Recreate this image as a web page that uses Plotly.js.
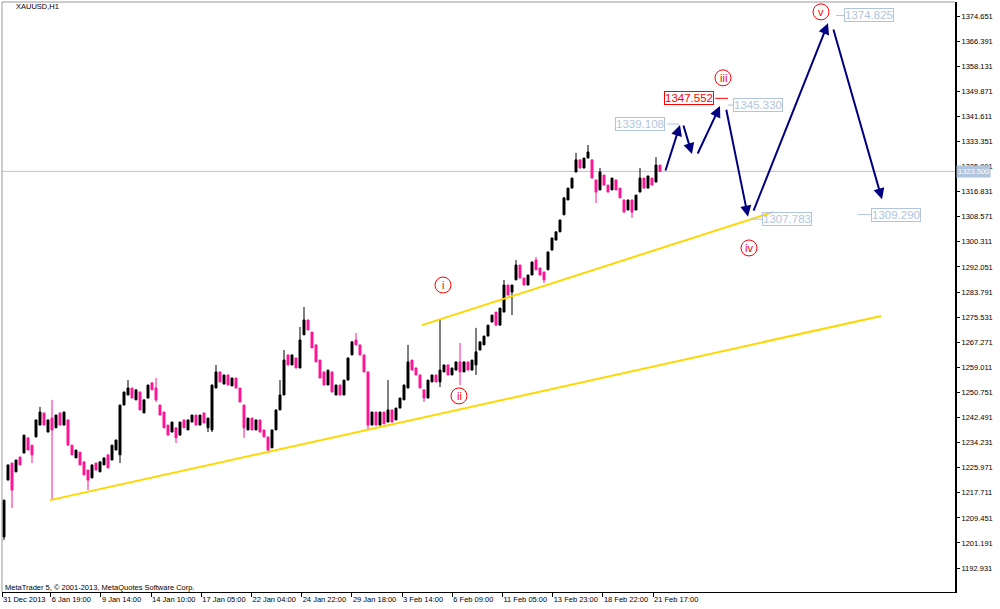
<!DOCTYPE html>
<html>
<head>
<meta charset="utf-8">
<script src="https://cdn.plot.ly/plotly-3.0.1.min.js"></script>
<style>html,body{margin:0;padding:0;background:#fff;}#chart{width:1000px;height:609px;}</style>
</head>
<body>
<div id="chart"></div>
<script>
// ---- data: XAUUSD H1 (each bar = ~4 hourly bars) ----
const barOpen = [
1203.2,1221.9,1227.5,1224.6,1229.5,1230.8,1235.8,1233.4,1236.1,1240.0,
1244.0,1237.7,1242.3,1239.1,1244.0,1240.0,1241.7,1233.4,1229.2,1231.1,
1227.9,1225.2,1222.6,1227.5,1224.6,1226.9,1230.2,1228.5,1231.8,1230.2,
1246.6,1249.9,1252.2,1248.3,1250.9,1244.0,1248.9,1253.9,1252.2,1246.6,
1244.3,1240.0,1237.7,1239.1,1236.7,1241.7,1238.4,1241.0,1243.3,1240.0,
1244.0,1239.1,1238.4,1252.2,1257.5,1253.5,1256.5,1252.9,1255.5,1252.2,
1246.6,1238.4,1242.3,1238.4,1241.7,1238.4,1236.1,1232.5,1238.4,1245.0,
1249.9,1263.1,1259.8,1262.1,1258.8,1269.7,1274.6,1270.6,1266.4,1261.4,
1257.5,1253.2,1257.5,1249.9,1253.2,1249.9,1254.8,1263.1,1268.0,1266.4,
1263.1,1257.5,1240.0,1244.3,1240.0,1244.3,1241.0,1245.0,1241.7,1245.6,
1248.3,1252.2,1261.4,1258.8,1256.5,1251.6,1248.9,1254.2,1256.5,1254.2,
1257.5,1259.8,1256.5,1258.1,1260.8,1257.5,1260.8,1258.1,1259.8,1264.7,
1266.4,1269.3,1273.9,1277.2,1272.9,1277.2,1286.1,1283.8,1287.8,1292.7,
1288.4,1286.1,1289.4,1294.3,1291.7,1290.4,1291.1,1297.6,1300.9,1303.6,
1309.2,1314.1,1318.0,1323.3,1327.3,1324.6,1327.9,1327.3,1320.7,1317.4,
1322.3,1319.0,1317.4,1320.7,1318.0,1314.1,1310.8,1314.1,1310.8,1316.7,
1321.3,1318.0,1321.3,1320.0,1325.6
];
const barClose = [
1215.3,1226.9,1218.6,1228.5,1226.9,1236.7,1231.8,1230.2,1241.7,1244.3,
1240.0,1241.7,1238.4,1243.3,1240.0,1244.3,1233.4,1230.2,1231.8,1226.9,
1223.6,1221.9,1226.9,1225.2,1227.9,1229.2,1225.9,1233.4,1235.1,1246.6,
1250.9,1252.2,1248.9,1251.6,1245.0,1248.3,1253.2,1251.6,1248.3,1243.3,
1239.1,1236.7,1241.0,1235.8,1241.0,1239.1,1241.7,1243.3,1240.0,1243.3,
1240.7,1242.3,1253.2,1257.5,1254.2,1256.5,1253.2,1255.5,1252.2,1247.6,
1239.1,1242.3,1238.4,1241.7,1237.7,1236.1,1231.8,1238.4,1245.0,1249.9,
1261.4,1259.8,1263.1,1258.8,1268.0,1274.6,1271.3,1265.4,1260.8,1255.5,
1253.2,1258.1,1250.9,1253.2,1249.9,1254.8,1262.1,1267.4,1266.4,1263.1,
1257.5,1240.0,1244.3,1240.0,1244.3,1240.4,1245.0,1241.0,1245.6,1248.9,
1253.2,1260.8,1258.1,1256.5,1252.2,1248.9,1254.8,1256.5,1254.2,1258.1,
1259.8,1256.5,1258.8,1260.8,1257.5,1260.8,1258.1,1261.4,1264.1,1267.4,
1269.3,1272.9,1276.2,1272.9,1278.5,1286.1,1282.8,1286.1,1292.7,1288.4,
1286.1,1289.4,1293.7,1291.1,1289.4,1287.8,1297.0,1301.6,1303.6,1307.5,
1314.8,1318.0,1321.3,1327.3,1324.6,1327.9,1329.9,1321.3,1316.7,1323.3,
1319.0,1316.7,1321.3,1317.4,1314.8,1310.1,1314.1,1310.1,1315.7,1321.3,
1318.0,1322.0,1319.0,1325.6,1323.5
];
// wicks that reach beyond the bodies
const spikeIdx = [0,2,7,9,12,21,29,31,38,43,51,52,53,60,66,69,70,74,75,88,91,96,101,105,109,114,118,125,127,128,133,135,143,146,148,149,157,159,163];
const spikeHi = [null,null,null,1246.0,1248.3,null,null,1254.8,1255.5,null,null,null,1259.8,null,null,1254.8,1264.7,1272.3,1278.9,1270.3,null,1254.8,1266.4,null,1274.6,1267.0,1272.0,1287.8,null,1294.3,1295.3,null,1329.6,1332.2,null,1324.6,null,1324.6,1328.2];
const spikeLo = [1202.2,1212.7,1227.5,null,1215.3,1218.6,1227.5,null,1247.6,1234.1,1237.7,1237.7,null,1235.8,1230.8,null,null,null,null,null,1238.4,null,null,1247.6,1252.5,1253.2,1256.5,null,1276.2,null,null,1286.8,null,null,1313.1,null,1308.2,null,null];

const currentPrice = 1323.5;

const xTickLabels = ['31 Dec 2013','6 Jan 19:00','9 Jan 14:00','14 Jan 10:00','17 Jan 05:00','22 Jan 04:00','24 Jan 22:00','29 Jan 18:00','3 Feb 14:00','6 Feb 09:00','11 Feb 05:00','13 Feb 23:00','18 Feb 22:00','21 Feb 17:00'];

// trend lines: [barIndex, price] endpoints
const trendLower = [[11.5, 1215.3], [219.25, 1275.9]];
const trendUpper = [[104.5, 1272.9], [192.25, 1310.1]];

// projected path arrows (from -> to), bar index & price
const arrowFromX = [165.25, 169.75, 173.25, 180.5, 187.25, 207.25];
const arrowFromY = [1323.3, 1339.1, 1328.9, 1344.3, 1310.1, 1370.7];
const arrowToX   = [169.0, 172.0, 179.0, 186.0, 206.0, 219.5];
const arrowToY   = [1338.8, 1329.2, 1345.0, 1308.6, 1372.3, 1314.3];

// price target labels
const lblText  = ['1339.108','1347.552','1345.330','1307.783','1309.290','1374.825'];
const lblPrice = [1339.108, 1347.552, 1345.330, 1307.783, 1309.290, 1374.825];
const lblIdx   = [152.75, 165.0, 182.25, 189.5, 216.75, 210.0];
const lblRed   = [false, true, false, false, false, false];
const lblLineFrom = [165.75, 177.75, 181.0, 186.5, 213.5, 208.0];
const lblLineTo   = [168.75, 181.0, 182.25, 189.5, 216.75, 210.0];

// wave counts
const waveText  = ['i','ii','iii','iv','v'];
const waveIdx   = [109.75, 113.75, 179.75, 186.25, 204.25];
const wavePrice = [1286.1, 1249.6, 1354.3, 1298.3, 1376.0];

// ---- build ----
const idx = barOpen.map((_, i) => i);
const hi = barOpen.map((o, i) => Math.max(o, barClose[i]));
const lo = barOpen.map((o, i) => Math.min(o, barClose[i]));
spikeIdx.forEach((k, j) => {
  if (spikeHi[j] != null) hi[k] = Math.max(hi[k], spikeHi[j]);
  if (spikeLo[j] != null) lo[k] = Math.min(lo[k], spikeLo[j]);
});

const PINK = '#ff1493';
const LIGHT = '#b0c4de';
const FONT = 'Liberation Sans, Arial, sans-serif';

const traces = [{
  type: 'candlestick', x: idx, open: barOpen, high: hi, low: lo, close: barClose,
  increasing: {line: {color: '#000000', width: 1}, fillcolor: '#000000'},
  decreasing: {line: {color: PINK, width: 1}, fillcolor: PINK},
  whiskerwidth: 0, hoverinfo: 'skip', showlegend: false
}];

const shapes = [];
shapes.push({type:'line', xref:'paper', yref:'paper', x0:0, x1:0, y0:0, y1:1, line:{color:'#9a9a9a', width:1}});
shapes.push({type:'line', xref:'paper', yref:'paper', x0:0, x1:1, y0:1, y1:1, line:{color:'#9a9a9a', width:1}});
shapes.push({type:'line', xref:'paper', yref:'y', x0:0, x1:1, y0:currentPrice, y1:currentPrice, line:{color:LIGHT, width:1}, layer:'below'});
[trendLower, trendUpper].forEach(t => shapes.push({type:'line', xref:'x', yref:'y', x0:t[0][0], y0:t[0][1], x1:t[1][0], y1:t[1][1], line:{color:'#ffd700', width:2}}));
lblText.forEach((t, i) => shapes.push({type:'line', xref:'x', yref:'y', x0:lblLineFrom[i], x1:lblLineTo[i], y0:lblPrice[i], y1:lblPrice[i], line:{color: lblRed[i] ? '#ff0000' : LIGHT, width:1}}));
waveText.forEach((t, i) => shapes.push({type:'circle', xref:'x', yref:'y', xsizemode:'pixel', ysizemode:'pixel', xanchor:waveIdx[i], yanchor:wavePrice[i], x0:-8, x1:8, y0:-8, y1:8, line:{color:'#ff0000', width:1}}));

const ann = [];
arrowFromX.forEach((fx, i) => ann.push({
  xref:'x', yref:'y', axref:'x', ayref:'y', x:arrowToX[i], y:arrowToY[i], ax:fx, ay:arrowFromY[i],
  text:'', showarrow:true, arrowhead:2, arrowsize:1.1, arrowwidth:2, arrowcolor:'#000080', standoff:0, startstandoff:0
}));
lblText.forEach((t, i) => ann.push({
  xref:'x', yref:'y', x:lblIdx[i], y:lblPrice[i], xanchor:'left', yanchor:'middle', text:t, showarrow:false,
  font:{family:FONT, size:11.5, color: lblRed[i] ? '#ff0000' : LIGHT},
  bordercolor: lblRed[i] ? '#ff0000' : LIGHT, borderwidth:1, borderpad:0, bgcolor:'rgba(255,255,255,0)'
}));
waveText.forEach((t, i) => ann.push({
  xref:'x', yref:'y', x:waveIdx[i], y:wavePrice[i], xanchor:'center', yanchor:'middle', text:t, showarrow:false,
  font:{family:FONT, size:11, color:'#ff0000'}
}));
ann.push({xref:'paper', yref:'y', x:1, y:currentPrice, xanchor:'left', yanchor:'middle', xshift:1, text:currentPrice.toFixed(3), showarrow:false,
  bgcolor:LIGHT, font:{family:FONT, size:7.5, color:'#ffffff'}, borderpad:1});
ann.push({xref:'paper', yref:'paper', x:12/953, y:(592-7)/590, xanchor:'left', yanchor:'middle', text:'XAUUSD,H1', showarrow:false, font:{family:FONT, size:7.5, color:'#000'}});
ann.push({xref:'paper', yref:'paper', x:1/953, y:5/590, xanchor:'left', yanchor:'middle', text:'MetaTrader 5, © 2001-2013, MetaQuotes Software Corp.', showarrow:false, font:{family:FONT, size:7.5, color:'#000'}});

const tickvals = xTickLabels.map((_, k) => k === 0 ? -0.5 : -0.875 + 12.55 * k);

const layout = {
  width:1000, height:609,
  margin:{l:2, r:45, t:2, b:17, autoexpand:false},
  paper_bgcolor:'#ffffff', plot_bgcolor:'#ffffff',
  showlegend:false, boxgap:0.3,
  font:{family:FONT, size:7.5, color:'#000'},
  xaxis:{type:'linear', range:[-0.5, 237.75], rangeslider:{visible:false}, showgrid:false, zeroline:false,
    showline:true, linecolor:'#000', linewidth:1, ticks:'outside', ticklen:4, tickcolor:'#000',
    tickmode:'array', tickvals:tickvals, ticktext:xTickLabels, ticklabelposition:'outside right', tickangle:0,
    tickfont:{family:FONT, size:7.5, color:'#000'}, fixedrange:true},
  yaxis:{side:'right', range:[1185.06, 1379.26], showgrid:false, zeroline:false,
    showline:true, linecolor:'#000', linewidth:2, ticks:'outside', ticklen:3, tickcolor:'#000',
    tickmode:'linear', tick0:1192.931, dtick:8.26, tickformat:'.3f',
    tickfont:{family:FONT, size:7.5, color:'#000'}, fixedrange:true},
  shapes:shapes, annotations:ann
};

Plotly.newPlot('chart', traces, layout, {staticPlot:true, displayModeBar:false});
</script>
</body>
</html>
